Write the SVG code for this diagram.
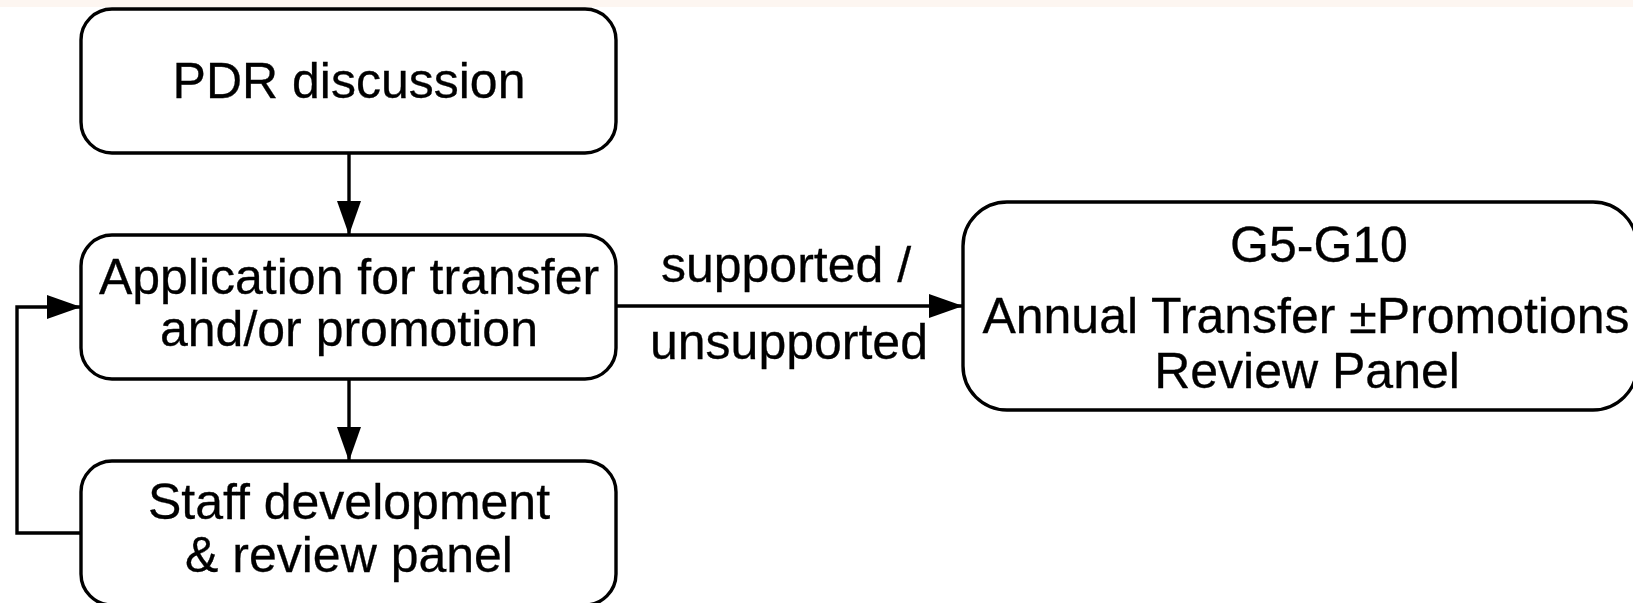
<svg xmlns="http://www.w3.org/2000/svg" width="1633" height="603" viewBox="0 0 1633 603">
  <style>
    .node { fill: #ffffff; stroke: #000000; stroke-width: 3.4; }
    .label { font-family: "Liberation Sans", Arial, sans-serif; font-size: 50px; fill: #000000; stroke: #000000; stroke-width: 0.3; text-anchor: middle; }
    .edge { fill: none; stroke: #000000; stroke-width: 3.4; marker-end: url(#arrow); }
  </style>
  <defs>
    <marker id="arrow" markerUnits="userSpaceOnUse" markerWidth="35" markerHeight="25" refX="34" refY="12" orient="auto">
      <path d="M0,0 L34,12 L0,24 Z" fill="#000000"/>
    </marker>
  </defs>

  <!-- page background with a thin warm band along the top -->
  <rect x="0" y="0" width="1633" height="603" fill="#ffffff"/>
  <rect x="0" y="0" width="1633" height="7" fill="#fdf6f1"/>

  <g id="node-pdr">
    <rect class="node" x="81" y="9" width="535" height="144" rx="31" ry="31"/>
    <text class="label" x="349" y="98">PDR discussion</text>
  </g>

  <g id="node-application">
    <rect class="node" x="81" y="235" width="535" height="144" rx="31" ry="31"/>
    <text class="label" x="349" y="294">Application for transfer</text>
    <text class="label" x="349" y="346">and/or promotion</text>
  </g>

  <g id="node-staff-panel">
    <rect class="node" x="81" y="461" width="535" height="144" rx="31" ry="31"/>
    <text class="label" x="349" y="519">Staff development</text>
    <text class="label" x="349" y="572">&amp; review panel</text>
  </g>

  <g id="node-annual-panel">
    <rect class="node" x="963" y="202" width="674" height="208" rx="44" ry="44"/>
    <text class="label" x="1319" y="262">G5-G10</text>
    <text class="label" x="1306" y="333">Annual Transfer ±Promotions</text>
    <text class="label" x="1307" y="388">Review Panel</text>
  </g>

  <g id="connectors">
    <path class="edge" d="M349,153 V235"/>
    <path class="edge" d="M349,379 V461"/>
    <path class="edge" d="M81,533 H17 V307 H81"/>
    <path class="edge" d="M616,306 H963"/>
    <text class="label" x="786" y="282">supported /</text>
    <text class="label" x="789" y="359">unsupported</text>
  </g>
</svg>
